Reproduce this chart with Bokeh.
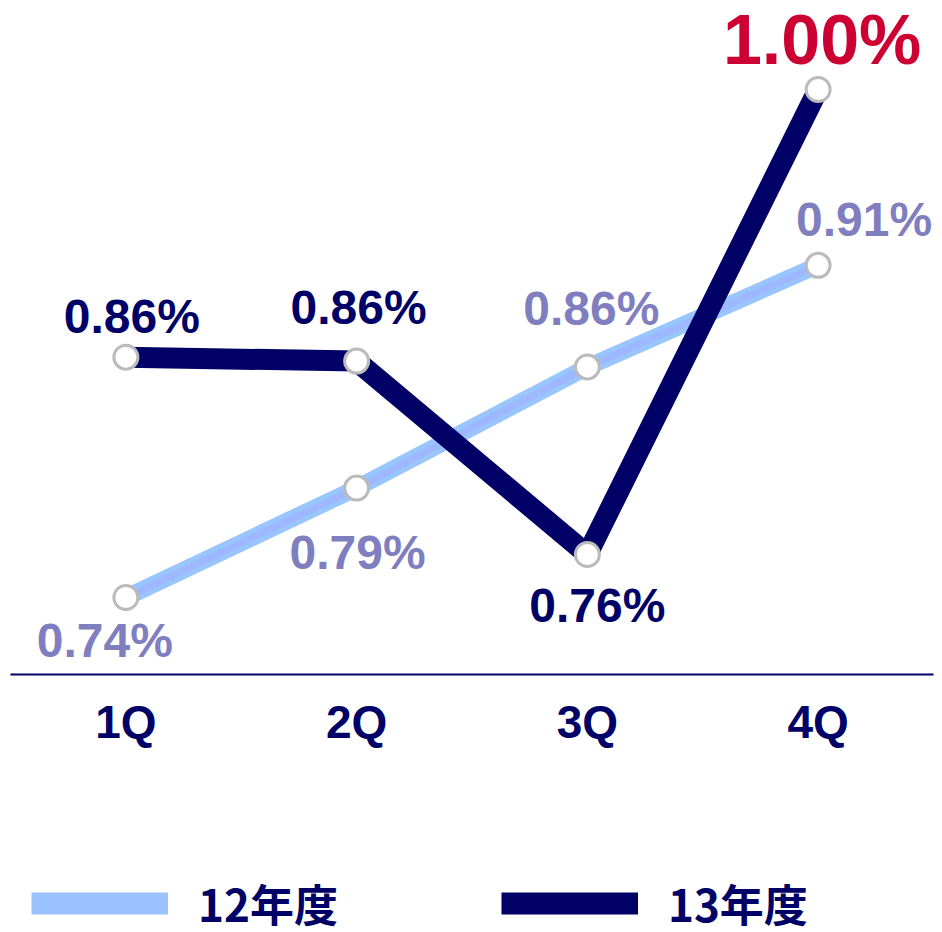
from bokeh.plotting import figure
from bokeh.layouts import column
from bokeh.models import (ColumnDataSource, FactorRange, Range1d, LabelSet,
                          Legend, LegendItem)
from bokeh.core.properties import value
from bokeh.embed import file_html
from bokeh.resources import INLINE

# ---- data ----
quarters = ["1Q", "2Q", "3Q", "4Q"]
fy12_values = [0.740, 0.796, 0.858, 0.910]
fy13_values = [0.863, 0.861, 0.762, 1.000]
fy12_labels = ["0.74%", "0.79%", "0.86%", "0.91%"]
fy13_labels = ["0.86%", "0.86%", "0.76%", "1.00%"]
series_names = ["12年度", "13年度"]

NAVY = "#000066"
LIGHT = "#99C6FF"
LIGHT_IN = "#9DB8FF"
LIGHT_TXT = "#7F7FBF"
RED = "#CC0033"
FONT = "Liberation Sans"

p = figure(width=942, height=780, output_backend="svg", toolbar_location=None,
           x_range=FactorRange(factors=quarters, range_padding=0),
           y_range=Range1d(0.70059, 1.04555),
           min_border_left=10, min_border_right=9, min_border_top=0,
           min_border_bottom=106, y_axis_location=None)
p.outline_line_color = None
p.xgrid.visible = False
p.ygrid.visible = False
p.background_fill_color = "white"
p.border_fill_color = "white"

ax = p.xaxis[0]
ax.axis_line_color = NAVY
ax.axis_line_width = 2
ax.major_tick_line_color = None
ax.minor_tick_line_color = None
ax.major_tick_in = 0
ax.major_tick_out = 0
ax.major_label_standoff = 21
ax.major_label_text_font = FONT
ax.major_label_text_font_style = "bold"
ax.major_label_text_font_size = "46px"
ax.major_label_text_color = NAVY

s12 = ColumnDataSource(dict(x=quarters, y=fy12_values, text=fy12_labels,
                            dx=[-21, 1, 4, 46], dy=[-60, -81, 42, 29]))
s13 = ColumnDataSource(dict(x=quarters, y=fy13_values, text=fy13_labels,
                            dx=[6, 2, 10, 4], dy=[24, 37, -67, 25],
                            color=[NAVY, NAVY, NAVY, RED],
                            size=["48px", "48px", "48px", "70px"]))

p.line("x", "y", source=s12, line_color=LIGHT, line_width=17, line_join="round")
p.line("x", "y", source=s12, line_color=LIGHT_IN, line_width=7, line_join="round")
p.line("x", "y", source=s13, line_color=NAVY, line_width=21, line_join="round")
p.scatter("x", "y", source=s12, size=24, fill_color="white",
          line_color="#BBBBBB", line_width=3)
p.scatter("x", "y", source=s13, size=24, fill_color="white",
          line_color="#BBBBBB", line_width=3)

p.add_layout(LabelSet(x="x", y="y", text="text", source=s12,
                      x_offset="dx", y_offset="dy", text_align="center",
                      text_baseline="alphabetic", text_font=value(FONT),
                      text_font_style="bold", text_font_size="48px",
                      text_color=LIGHT_TXT))
p.add_layout(LabelSet(x="x", y="y", text="text", source=s13,
                      x_offset="dx", y_offset="dy", text_align="center",
                      text_baseline="alphabetic", text_font=value(FONT),
                      text_font_style="bold", text_font_size="size",
                      text_color="color"))

# legend strip below the chart (hidden swatch renderers, legend only)
lf = figure(width=942, height=152, output_backend="svg", toolbar_location=None,
            x_range=Range1d(0, 1), y_range=Range1d(0, 1),
            min_border=0, x_axis_location=None, y_axis_location=None)
lf.outline_line_color = None
lf.xgrid.visible = False
lf.ygrid.visible = False
r12 = lf.line(x=[0], y=[0], line_color="#99C2FF", line_width=22, visible=False)
r13 = lf.line(x=[0], y=[0], line_color=NAVY, line_width=22, visible=False)

lg = Legend(items=[LegendItem(label=series_names[0], renderers=[r12]),
                   LegendItem(label=series_names[1], renderers=[r13])],
            orientation="horizontal", location=(21, -3),
            glyph_width=137, glyph_height=54, label_height=54,
            label_standoff=30, spacing=163,
            padding=0, margin=0, border_line_color=None,
            background_fill_alpha=0, label_text_font="Noto Sans CJK JP",
            label_text_font_style="bold", label_text_font_size="44px",
            label_text_color=NAVY)
lf.add_layout(lg, "center")

layout = column(p, lf, spacing=0)
open("out.html", "w").write(file_html(layout, INLINE))
